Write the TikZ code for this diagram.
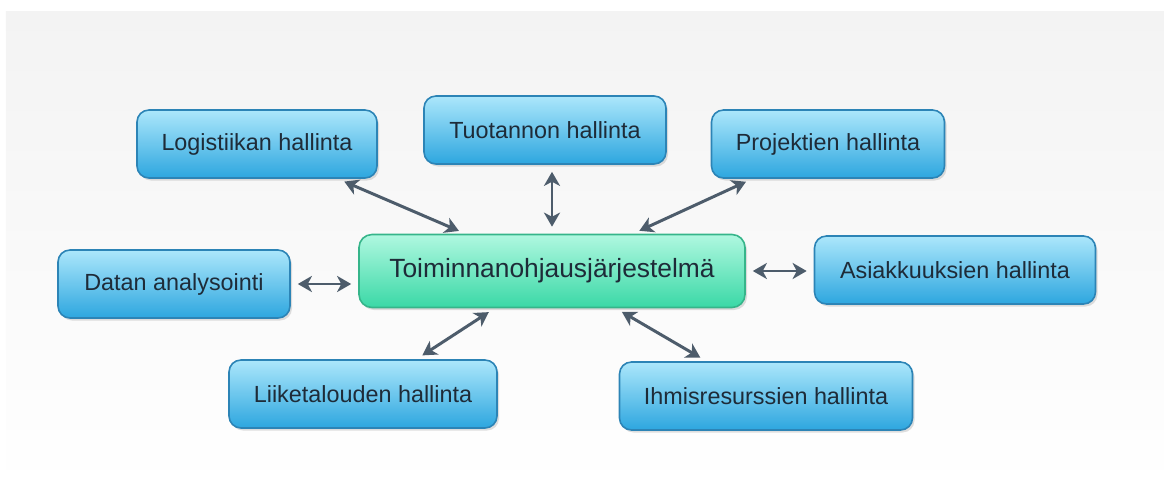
\documentclass[tikz,border=0pt]{standalone}
\usepackage{fontspec}
\setmainfont{Liberation Sans}
\usepackage{xcolor}
\usepackage{tikz}
\usetikzlibrary{arrows.meta, positioning, shadows}
\definecolor{SkyTop}{HTML}{ACE7FB}
\definecolor{SkyMid}{HTML}{5CC9F3}
\definecolor{SkyBot}{HTML}{2DA6DF}
\definecolor{SkyEdge}{HTML}{2C84B6}
\definecolor{MintTop}{HTML}{B0F8E0}
\definecolor{MintMid}{HTML}{6CEDC4}
\definecolor{MintBot}{HTML}{3AD8A6}
\definecolor{MintEdge}{HTML}{36B58A}
\definecolor{Slate}{HTML}{4D5C6B}
\definecolor{Ink}{HTML}{1E2B38}
\definecolor{Paper}{HTML}{F3F3F3}

\begin{document}
\begin{tikzpicture}[
        font=\fontsize{13.3}{15}\selectfont,
        link/.style={{Stealth[length=2.8mm,width=3.2mm,inset=0.8mm]}-{Stealth[length=2.8mm,width=3.2mm,inset=0.8mm]}, line width=1.7pt, draw=Slate, shorten >=4pt, shorten <=4pt},
        module/.style={draw=SkyEdge, top color=SkyTop, middle color=SkyMid, bottom color=SkyBot, rounded corners=2.4mm, line width=0.9pt, text=Ink, align=center, minimum height=1.36cm, drop shadow={opacity=0.25, shadow xshift=0.04cm, shadow yshift=-0.05cm}},
        hub/.style={draw=MintEdge, top color=MintTop, middle color=MintMid, bottom color=MintBot, rounded corners=2.6mm, line width=0.9pt, text=Ink, align=center, minimum height=1.46cm, minimum width=7.72cm, font=\fontsize{15}{17}\selectfont, drop shadow={opacity=0.25, shadow xshift=0.04cm, shadow yshift=-0.05cm}}
      ]
        \useasboundingbox (0,0) rectangle (23.28,-9.78);
        \shade[top color=Paper, bottom color=white] (0.12,-0.22) rectangle (23.28,-9.78);
        % centre
        \node[hub] (erp) at (11.04,-5.42) {Toiminnanohjausjärjestelmä};
        % modules round it
        \node[module, minimum width=4.80cm] (logistics) at (5.14,-2.88) {Logistiikan hallinta};
        \node[module, minimum width=4.84cm] (production) at (10.90,-2.60) {Tuotannon hallinta};
        \node[module, minimum width=4.66cm] (projects) at (16.56,-2.88) {Projektien hallinta};
        \node[module, minimum width=4.64cm] (analysis) at (3.48,-5.68) {Datan analysointi};
        \node[module, minimum width=5.62cm] (customers) at (19.10,-5.40) {Asiakkuuksien hallinta};
        \node[module, minimum width=5.36cm] (finance) at (7.26,-7.88) {Liiketalouden hallinta};
        \node[module, minimum width=5.86cm] (hr) at (15.32,-7.92) {Ihmisresurssien hallinta};
        \draw[link] (logistics) -- (erp);
        \draw[link] (production.south -| erp.north) -- (erp.north);
        \draw[link] (projects) -- (erp);
        \draw[link] (analysis.east) -- (analysis.east -| erp.west);
        \draw[link] (erp.east) -- (erp.east -| customers.west);
        \draw[link] (finance) -- (erp);
        \draw[link] (hr) -- (erp);
      \end{tikzpicture}
\end{document}
